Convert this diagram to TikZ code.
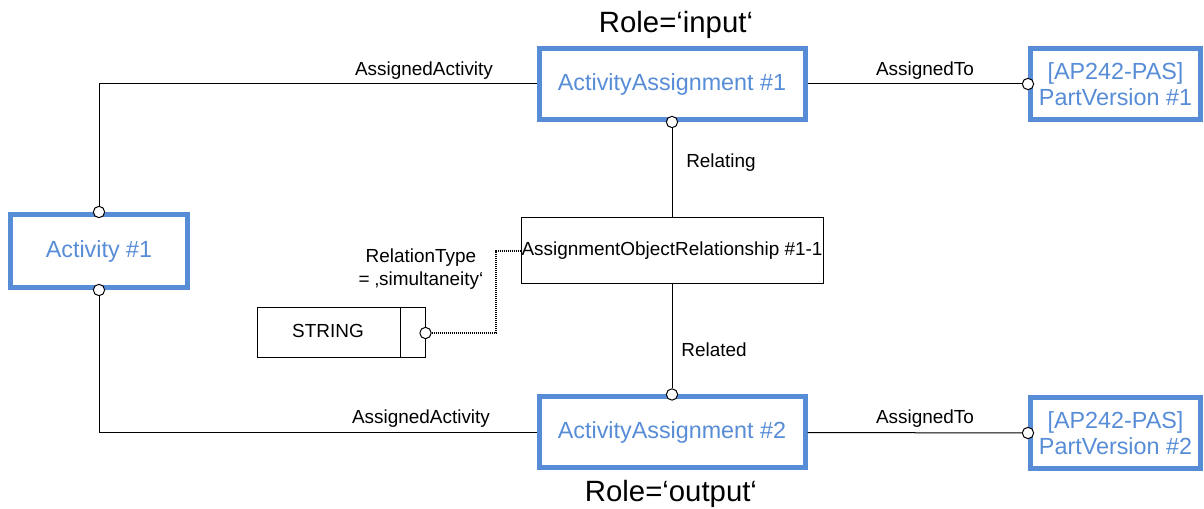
\documentclass[tikz,border=0pt]{standalone}
\usepackage{fontspec}
\setmainfont{Liberation Sans}
\definecolor{boxblue}{RGB}{87,140,214}
\tikzset{
  bluebox/.style={draw=boxblue, line width=3.75pt, text=boxblue, font=\fontsize{17.5}{20}\selectfont, inner sep=0pt, align=center},
  thinbox/.style={draw=black, line width=0.75pt, inner sep=0pt, font=\fontsize{14.2}{16}\selectfont},
  conn/.style={draw=black, fill=white, circle, line width=0.75pt, minimum size=8.5pt, inner sep=0pt},
  lbl/.style={font=\fontsize{14.2}{16}\selectfont, inner sep=0pt, anchor=base},
  role/.style={font=\fontsize{22}{26}\selectfont, inner sep=0pt, anchor=base},
  wire/.style={line width=0.75pt},
  dotwire/.style={line width=0.9pt, dash pattern=on 1pt off 0.5pt},
}
\begin{document}
\begin{tikzpicture}[x=0.75pt, y=-0.75pt]
\useasboundingbox (0,0) rectangle (1204,509);
% boxes
\node[bluebox, minimum width=132.75pt, minimum height=54.75pt] (act) at (99,251) {Activity \#1};
\node[bluebox, minimum width=199.5pt, minimum height=53.25pt] (aa1) at (672,84) {ActivityAssignment \#1};
\node[bluebox, minimum width=199.5pt, minimum height=53.25pt] (aa2) at (672,432.5) {ActivityAssignment \#2};
\node[bluebox, minimum width=127.5pt, minimum height=53.25pt] (pv1) at (1115.5,84) {[AP242-PAS]\\PartVersion \#1};
\node[bluebox, minimum width=127.5pt, minimum height=53.25pt] (pv2) at (1115.5,433) {[AP242-PAS]\\PartVersion \#2};
\node[thinbox, minimum width=226.5pt, minimum height=49.5pt] (aor) at (672,251) {AssignmentObjectRelationship \#1-1};
\node[thinbox, minimum width=126pt, minimum height=37.5pt] (str) at (341,333) {};
\node[lbl] (strtxt) at (328,338) {STRING};
\draw[wire] (400,308) -- (400,358);
% connector circles
\node[conn] (cact1) at (act.north) {};
\node[conn] (cact2) at (act.south) {};
\node[conn] (caa1) at (aa1.south) {};
\node[conn] (caa2) at (aa2.north) {};
\node[conn] (cpv1) at (pv1.west) {};
\node[conn] (cpv2) at (pv2.west) {};
\node[conn] (cstr) at (str.east) {};
% connectors
\draw[wire] (cact1.north) |- (aa1.west);
\draw[wire] (cact2.south) |- (aa2.west);
\draw[wire] (aa1.east) -- (cpv1.west);
\draw[wire] (aa2.east) -- (cpv2.west);
\draw[wire] (caa1.south) -- (aor.north);
\draw[wire] (aor.south) -- (caa2.north);
\coordinate (bend) at (496,0);
\draw[dotwire] (cstr.east) -| (bend |- aor.west) -- (aor.west);
% labels
\node[lbl] (l1) at (424,76) {AssignedActivity};
\node[lbl] (l2) at (421,424) {AssignedActivity};
\node[lbl] (l3) at (925,76) {AssignedTo};
\node[lbl] (l4) at (925,424) {AssignedTo};
\node[lbl] (l5) at (721,168) {Relating};
\node[lbl] (l6) at (714,357) {Related};
\node[lbl] (l7) at (421,263) {RelationType};
\node[lbl] (l8) at (421,286) {= ‚simultaneity‘};
\node[role] (r1) at (676,33) {Role=‘input‘};
\node[role] (r2) at (671,502) {Role=‘output‘};
\end{tikzpicture}
\end{document}
